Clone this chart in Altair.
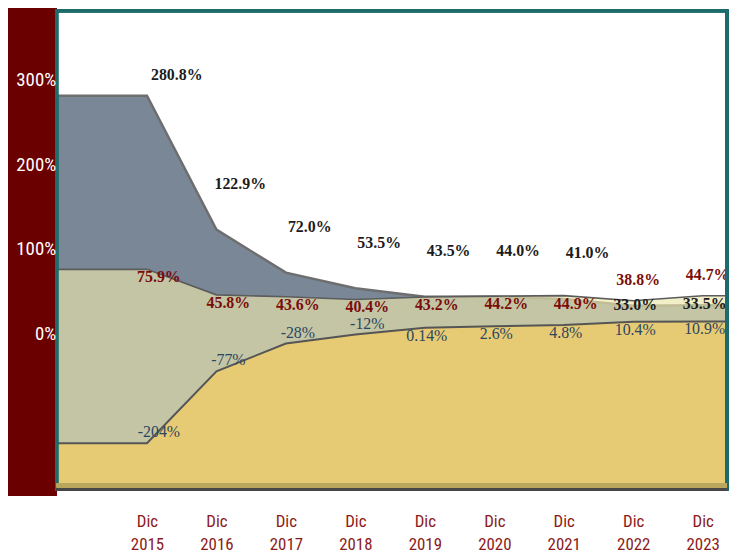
import altair as alt
import pandas as pd

# ---------------- data ----------------
years = [2015, 2016, 2017, 2018, 2019, 2020, 2021, 2022, 2023]
month = "Dic"
serie_negra = [280.8, 122.9, 72.0, 53.5, 43.5, 44.0, 41.0, 33.0, 33.5]
serie_roja = [75.9, 45.8, 43.6, 40.4, 43.2, 44.2, 44.9, 38.8, 44.7]
serie_azul = [-204, -77, -28, -12, 0.14, 2.6, 4.8, 10.4, 10.9]
etiq_negra = ["280.8%", "122.9%", "72.0%", "53.5%", "43.5%", "44.0%", "41.0%", "33.0%", "33.5%"]
etiq_roja = ["75.9%", "45.8%", "43.6%", "40.4%", "43.2%", "44.2%", "44.9%", "38.8%", "44.7%"]
etiq_azul = ["-204%", "-77%", "-28%", "-12%", "0.14%", "2.6%", "4.8%", "10.4%", "10.9%"]
y_ticks = [0, 100, 200, 300]

# ---------------- layout ----------------
W, H = 675, 482
X_DOM = [2013.7, 2023.35]
Y_MAIN = [-184, 381]
Y_GOLD = [-286, 560]

df = pd.DataFrame({"year": years, "a": serie_negra, "b": serie_roja, "c": serie_azul,
                   "ta": etiq_negra, "tb": etiq_roja, "tc": etiq_azul})
# areas extend flat to the edges of the plot
edge = pd.concat([df.iloc[[0]].assign(year=X_DOM[0]), df,
                  df.iloc[[-1]].assign(year=X_DOM[1])], ignore_index=True)

SANS = "Liberation Sans Narrow, Roboto Condensed, Liberation Sans, sans-serif"
SERIF = "Liberation Serif, DejaVu Serif, serif"

x_axis = alt.Axis(values=years, labelExpr=f"['{month}', toString(datum.value)]",
                  domain=False, ticks=False, grid=False, labelColor="#8b1a1a",
                  labelFont=SANS, labelFontSize=17, labelLineHeight=23,
                  labelPadding=24, labelBaseline="top", labelAngle=0, title=None,
                  zindex=1)
y_axis = alt.Axis(values=y_ticks, labelExpr="datum.value + '%'", domain=False,
                  ticks=False, grid=False, labelColor="white", labelFont=SANS,
                  labelFontSize=19, labelPadding=1, title=None, zindex=1)


def X():
    return alt.X("year:Q", scale=alt.Scale(domain=X_DOM, nice=False, zero=False), axis=x_axis)


def YM(field):
    return alt.Y(f"{field}:Q", scale=alt.Scale(domain=Y_MAIN, nice=False, zero=False), axis=y_axis)


def YG(field):
    return alt.Y(f"{field}:Q", scale=alt.Scale(domain=Y_GOLD, nice=False, zero=False), axis=None)


base_e = alt.Chart(edge)
base = alt.Chart(df)

gray_area = base_e.mark_area(color="#7a8797", opacity=1).encode(
    x=X(), y=YM("a"), y2=alt.datum(Y_MAIN[0]))
gray_line = base_e.mark_line(color="#6e6e6e", strokeWidth=2.5).encode(x=X(), y=YM("a"))
yellow_area = base_e.mark_area(color="#ece5ab", opacity=0.66).encode(
    x=X(), y=YM("b"), y2=alt.datum(Y_MAIN[0]))
yellow_line = base_e.mark_line(color="#5c5c5c", strokeWidth=1.6).encode(x=X(), y=YM("b"))

txt_a = dict(font=SERIF, fontSize=16, fontWeight="bold", color="#1c1c1c", baseline="middle")
txt_b = dict(font=SERIF, fontSize=16, fontWeight="bold", color="#7a0c0c", baseline="middle")
txt_c = dict(font=SERIF, fontSize=16, color="#2c4560", baseline="middle")

ta0 = base.transform_filter("datum.year == 2015").mark_text(dx=30, dy=-21, **txt_a).encode(
    x=X(), y=YM("a"), text="ta:N")
ta1 = base.transform_filter("datum.year > 2015 && datum.year <= 2021").mark_text(
    dx=24, dy=-46, **txt_a).encode(x=X(), y=YM("a"), text="ta:N")
ta2 = base.transform_filter("datum.year >= 2022").mark_text(dx=2, dy=-1, **txt_a).encode(
    x=X(), y=YM("a"), text="ta:N")
tb1 = base.transform_filter("datum.year <= 2021").mark_text(dx=12, dy=8, **txt_b).encode(
    x=X(), y=YM("b"), text="tb:N")
tb2 = base.transform_filter("datum.year >= 2022").mark_text(dx=5, dy=-21, **txt_b).encode(
    x=X(), y=YM("b"), text="tb:N")

main = alt.layer(gray_area, gray_line, yellow_area, yellow_line, ta0, ta1, ta2, tb1, tb2)

gold_area = base_e.mark_area(color="#e6cb74", opacity=1).encode(
    x=X(), y=YG("c"), y2=alt.datum(Y_GOLD[0]))
gold_line = base_e.mark_line(color="#555555", strokeWidth=2).encode(x=X(), y=YG("c"))
tc1 = base.transform_filter("datum.c < 0").mark_text(dx=12, dy=-11, **txt_c).encode(
    x=X(), y=YG("c"), text="tc:N")
tc2 = base.transform_filter("datum.c >= 0").mark_text(dx=2, dy=8, **txt_c).encode(
    x=X(), y=YG("c"), text="tc:N")
gold = alt.layer(gold_area, gold_line, tc1, tc2)

band = alt.Chart(df).mark_rect(color="#6b0000").encode(
    x=alt.value(-49), x2=alt.value(0), y=alt.value(-4), y2=alt.value(H + 6))
frame = alt.Chart(df).mark_rect(fillOpacity=0, stroke="#1d6b6b", strokeWidth=3).encode(
    x=alt.value(0), x2=alt.value(W), y=alt.value(0), y2=alt.value(H))
stripe = alt.Chart(df).mark_rule(color="#b9a65c", strokeWidth=4).encode(
    x=alt.value(0), x2=alt.value(W), y=alt.value(H - 4))
bottom = alt.Chart(df).mark_rule(color="#474747", strokeWidth=3).encode(
    x=alt.value(0), x2=alt.value(W), y=alt.value(H))

chart = alt.layer(band, main, gold, frame, stripe, bottom).resolve_scale(
    y="independent"
).properties(
    width=W, height=H,
    autosize=alt.AutoSizeParams(type="none"),
    padding={"left": 49, "top": 1, "right": 2, "bottom": 62},
).configure_view(strokeWidth=0)

chart.save("out.html", embed_options={"renderer": "svg", "actions": False})
